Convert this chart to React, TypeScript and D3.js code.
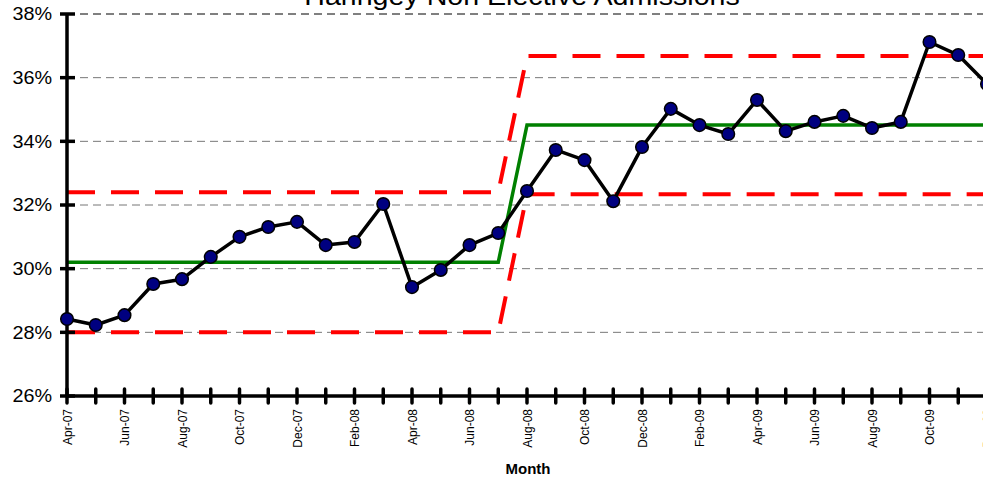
import React from 'react';
import * as d3 from 'd3';

const months = [
  'Apr-07', 'May-07', 'Jun-07', 'Jul-07', 'Aug-07', 'Sep-07', 'Oct-07', 'Nov-07', 'Dec-07',
  'Jan-08', 'Feb-08', 'Mar-08', 'Apr-08', 'May-08', 'Jun-08', 'Jul-08', 'Aug-08', 'Sep-08',
  'Oct-08', 'Nov-08', 'Dec-08', 'Jan-09', 'Feb-09', 'Mar-09', 'Apr-09', 'May-09', 'Jun-09',
  'Jul-09', 'Aug-09', 'Sep-09', 'Oct-09', 'Nov-09', 'Dec-09'
];

const admissions = [
  28.42, 28.23, 28.54, 29.52, 29.67, 30.37, 31.0, 31.31, 31.47,
  30.74, 30.84, 32.03, 29.42, 29.96, 30.74, 31.12, 32.44, 33.73,
  33.41, 32.12, 33.82, 35.02, 34.51, 34.23, 35.3, 34.32, 34.61,
  34.8, 34.42, 34.61, 37.12, 36.71, 35.8
];

// process mean and limits, one value per month (step after Jul-08)
const centre = [...Array(16).fill(30.2), ...Array(17).fill(34.51)];
const upper = [...Array(16).fill(32.4), ...Array(17).fill(36.68)];
const lower = [...Array(16).fill(28.0), ...Array(17).fill(32.34)];

const yTicks = [26, 28, 30, 32, 34, 36, 38];

const W = 983;
const H = 477;

export default function App() {
  const x = d3.scalePoint<string>().domain(months).range([67, 987]);
  const y = d3.scaleLinear().domain([26, 38]).range([396, 14]);

  const line = d3
    .line<number>()
    .x((_, i) => x(months[i]) as number)
    .y((d) => y(d));

  const font = 'Arial, "Liberation Sans", sans-serif';

  return (
    <svg
      width={W}
      height={H}
      style={{ position: 'absolute', left: 0, top: 0, background: '#fff' }}
      fontFamily={font}
    >
      {/* title, cut by the top edge as in the source */}
      <text x={522} y={5} textAnchor="middle" fontSize={26} transform="translate(522,0) scale(1.1,1) translate(-522,0)">
        Haringey Non Elective Admissions
      </text>

      {/* grid */}
      {yTicks
        .filter((t) => t > 26)
        .map((t) => (
          <line
            key={t}
            x1={67}
            x2={W}
            y1={y(t)}
            y2={y(t)}
            stroke={t === 38 ? '#000' : '#777'}
            strokeWidth={1}
            strokeDasharray="8,5"
          />
        ))}

      {/* control limits */}
      <path d={line(upper) || ''} fill="none" stroke="#ff0000" strokeWidth={4} strokeDasharray="28,16" />
      <path d={line(lower) || ''} fill="none" stroke="#ff0000" strokeWidth={4} strokeDasharray="28,16" />
      <path d={line(centre) || ''} fill="none" stroke="#008000" strokeWidth={3.5} />

      {/* axes */}
      <line x1={67} x2={67} y1={14} y2={397} stroke="#000" strokeWidth={3.5} />
      <line x1={66} x2={W} y1={396} y2={396} stroke="#000" strokeWidth={3.5} />
      {yTicks.map((t) => (
        <g key={t}>
          <line x1={60} x2={75} y1={y(t)} y2={y(t)} stroke="#000" strokeWidth={3.5} />
          <text
            x={52}
            y={y(t)}
            dy="0.36em"
            textAnchor="end"
            fontSize={18}
            transform={`translate(52,0) scale(1.1,1) translate(-52,0)`}
          >
            {t}%
          </text>
        </g>
      ))}
      {months.map((m, i) => (
        <g key={m}>
          <line
            x1={x(m)}
            x2={x(m)}
            y1={389}
            y2={403}
            stroke="#000"
            strokeWidth={3.5}
            strokeLinecap="round"
          />
          {i % 2 === 0 && (
            <text
              transform={`translate(${(x(m) as number) + 4.5},409) rotate(-90)`}
              textAnchor="end"
              fontSize={12}
            >
              {m}
            </text>
          )}
        </g>
      ))}

      {/* data */}
      <path d={line(admissions) || ''} fill="none" stroke="#000" strokeWidth={3.5} strokeLinejoin="round" />
      {admissions.map((v, i) => (
        <circle
          key={months[i]}
          cx={x(months[i])}
          cy={y(v)}
          r={6.3}
          fill="#000080"
          stroke="#000"
          strokeWidth={1.5}
        />
      ))}

      <text x={528} y={474} textAnchor="middle" fontSize={15} fontWeight="bold">
        Month
      </text>
    </svg>
  );
}
